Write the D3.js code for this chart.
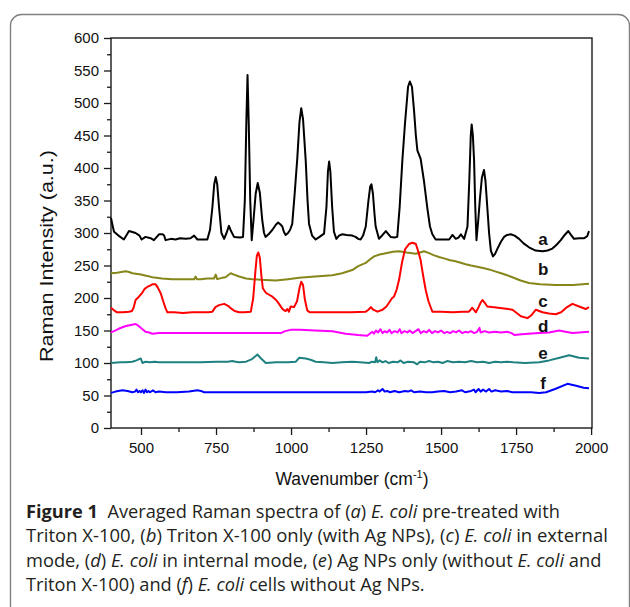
<!DOCTYPE html>
<html>
<head>
<meta charset="utf-8">
<script src="https://cdnjs.cloudflare.com/ajax/libs/d3/7.8.5/d3.min.js"></script>
<style>
  body { margin: 0; background: #fff; }
</style>
</head>
<body>
<script>
// spectra: [wavenumber, intensity]
var specA = [[400,323],[405,312],[410,302],[425,296],[443,290],[460,303],[482,300],[495,296],[502,290],[515,294],[532,292],[543,289],[560,298],[572,298],[577,296],[582,289],[600,291],[615,290],[630,292],[649,291],[665,292],[677,296],[688,290],[705,290],[721,290],[730,305],[738,340],[744,375],[749,386],[754,375],[760,340],[768,300],[777,291],[785,300],[793,311],[800,303],[810,294],[830,293],[840,294],[846,350],[851,470],[855,543],[859,470],[864,350],[869,289],[875,320],[882,360],[889,377],[896,362],[904,320],[910,300],[915,294],[925,298],[938,305],[950,313],[957,316],[965,313],[971,310],[976,302],[982,297],[990,300],[997,305],[1004,314],[1012,360],[1021,416],[1028,470],[1034,492],[1040,475],[1049,411],[1055,350],[1060,314],[1070,296],[1082,290],[1095,294],[1110,299],[1118,340],[1123,395],[1127,410],[1131,395],[1137,340],[1143,302],[1151,291],[1160,296],[1171,298],[1185,297],[1204,296],[1215,294],[1224,291],[1232,290],[1240,296],[1249,310],[1258,350],[1264,372],[1268,375],[1273,360],[1278,330],[1282,310],[1293,291],[1305,297],[1316,303],[1325,298],[1332,294],[1345,293],[1354,294],[1362,340],[1371,412],[1380,470],[1390,525],[1396,533],[1403,525],[1410,488],[1416,450],[1421,427],[1432,414],[1443,380],[1454,339],[1463,310],[1471,298],[1482,290],[1500,290],[1515,290],[1527,290],[1538,297],[1549,291],[1558,293],[1566,298],[1577,291],[1588,310],[1594,380],[1599,450],[1602,467],[1606,450],[1610,412],[1614,340],[1618,289],[1624,320],[1629,350],[1636,385],[1643,397],[1648,380],[1654,340],[1660,300],[1666,273],[1673,264],[1680,268],[1688,276],[1700,287],[1710,294],[1720,297],[1732,298],[1745,296],[1760,291],[1775,284],[1793,278],[1815,273],[1838,272],[1855,273],[1871,276],[1885,282],[1899,289],[1912,297],[1924,303],[1933,297],[1943,291],[1960,292],[1977,292],[1987,295],[1993,303]];

var specB = [[400,238],[420,239],[449,241],[460,240],[471,238],[500,236],[520,234],[538,232],[570,230],[604,229],[640,229],[677,229],[682,233],[686,229],[700,229],[720,230],[743,230],[749,236],[754,229],[770,231],[782,232],[790,235],[799,238],[810,236],[827,233],[850,230],[871,229],[900,228],[949,227],[990,229],[1027,231],[1080,233],[1138,235],[1170,238],[1204,243],[1224,249],[1249,254],[1265,260],[1277,264],[1295,267],[1316,269],[1340,271],[1360,272],[1385,270],[1416,268],[1430,270],[1443,272],[1460,269],[1475,266],[1493,263],[1510,261],[1530,258],[1545,257],[1560,255],[1582,252],[1600,250],[1620,248],[1640,246],[1660,244],[1680,241],[1700,238],[1720,235],[1738,232],[1765,227],[1793,223],[1830,221],[1882,220],[1940,220],[1993,222]];

var specC = [[400,185],[410,181],[420,178],[440,178],[460,179],[470,180],[476,186],[482,197],[493,202],[504,208],[512,214],[521,217],[530,219],[538,221],[549,221],[556,216],[566,207],[574,195],[582,184],[588,178],[610,178],[640,177],[670,178],[700,178],[725,178],[738,179],[748,186],[760,189],[777,191],[790,188],[800,184],[812,180],[827,178],[845,178],[866,179],[874,200],[881,240],[886,265],[891,270],[896,262],[901,235],[906,215],[916,208],[927,205],[938,202],[950,197],[960,191],[970,184],[977,181],[982,180],[988,183],[993,179],[999,187],[1010,186],[1020,195],[1028,215],[1034,225],[1040,220],[1046,198],[1054,181],[1062,178],[1100,178],[1160,178],[1200,178],[1249,179],[1258,182],[1266,186],[1274,182],[1288,179],[1305,182],[1318,187],[1327,193],[1337,200],[1343,202],[1352,213],[1360,228],[1370,255],[1380,275],[1393,283],[1405,285],[1416,283],[1425,270],[1432,258],[1440,235],[1449,212],[1458,195],[1466,185],[1471,179],[1500,179],[1540,178],[1570,179],[1593,179],[1604,185],[1616,178],[1625,186],[1632,193],[1638,197],[1645,193],[1654,187],[1670,186],[1690,185],[1710,184],[1738,182],[1752,177],[1766,172],[1788,169],[1800,173],[1816,182],[1838,178],[1860,176],[1882,175],[1900,178],[1920,186],[1938,191],[1960,187],[1982,183],[1993,186]];

var specD = [[400,147],[410,149],[427,153],[450,157],[470,159],[482,160],[492,157],[505,152],[515,148],[527,147],[538,145],[560,146],[600,146],[640,146],[682,146],[720,146],[760,146],[800,146],[850,146],[900,146],[940,146],[966,146],[980,149],[999,151],[1030,151],[1080,150],[1138,149],[1160,147],[1182,145],[1224,143],[1254,142],[1262,145],[1271,148],[1276,145],[1283,150],[1290,147],[1298,152],[1305,146],[1312,149],[1320,147],[1328,151],[1335,146],[1345,149],[1355,147],[1362,152],[1368,146],[1378,149],[1388,147],[1395,150],[1405,146],[1415,149],[1425,152],[1432,146],[1442,149],[1452,147],[1460,151],[1470,146],[1480,149],[1490,147],[1500,150],[1510,146],[1520,148],[1530,146],[1540,149],[1550,147],[1560,150],[1570,146],[1580,148],[1590,147],[1600,149],[1610,146],[1620,148],[1628,154],[1632,147],[1645,149],[1660,147],[1680,148],[1700,147],[1720,148],[1735,146],[1745,143],[1760,144],[1790,145],[1827,146],[1860,147],[1893,150],[1915,148],[1938,146],[1960,147],[1993,148]];

var specE = [[400,100],[430,101],[450,101],[471,102],[485,104],[499,107],[505,100],[515,102],[530,101],[545,102],[560,101],[580,101],[600,101],[650,101],[700,101],[750,102],[790,102],[804,103],[815,102],[827,101],[850,102],[870,106],[888,113],[900,107],[916,100],[950,101],[990,101],[1016,102],[1027,108],[1049,107],[1065,105],[1082,102],[1110,101],[1138,100],[1170,101],[1204,102],[1230,101],[1260,100],[1270,102],[1280,101],[1284,109],[1288,101],[1295,104],[1305,101],[1315,103],[1325,100],[1340,102],[1355,101],[1365,104],[1375,100],[1390,102],[1410,101],[1420,98],[1430,102],[1445,101],[1460,103],[1475,101],[1490,102],[1505,100],[1520,103],[1540,101],[1560,102],[1580,101],[1600,103],[1620,101],[1640,102],[1660,100],[1680,102],[1700,101],[1720,102],[1740,101],[1780,100],[1827,101],[1860,104],[1895,108],[1927,112],[1960,108],[1993,107]];

var specF = [[400,54],[415,56],[438,58],[455,57],[471,55],[480,56],[485,59],[490,55],[495,57],[500,55],[505,58],[510,54],[515,59],[520,55],[525,57],[530,55],[540,58],[548,55],[560,56],[582,55],[620,55],[660,56],[688,58],[700,57],[710,55],[760,55],[800,55],[850,55],[900,55],[950,55],[1000,55],[1050,55],[1100,55],[1150,55],[1200,55],[1250,55],[1270,56],[1280,55],[1290,58],[1295,56],[1305,60],[1312,56],[1320,57],[1330,55],[1345,57],[1360,55],[1380,57],[1390,56],[1400,58],[1410,55],[1430,56],[1450,55],[1470,55],[1490,56],[1510,57],[1530,55],[1550,56],[1570,58],[1580,55],[1600,57],[1610,59],[1615,55],[1625,60],[1632,56],[1640,59],[1650,56],[1660,60],[1668,56],[1680,58],[1700,56],[1720,57],[1738,55],[1760,55],[1800,55],[1827,54],[1850,55],[1880,60],[1921,68],[1950,65],[1975,62],[1993,61]];

var seriesNames = ["a", "b", "c", "d", "e", "f"];
var seriesData = [specA, specB, specC, specD, specE, specF];
var seriesColors = ["#000000", "#86861a", "#ff0000", "#ff00ff", "#1f8080", "#0000ff"];
// where the letter labels sit, in data units
var labelWn = [1840, 1840, 1840, 1840, 1840, 1840];
var labelVal = [290, 244, 195, 157, 115, 69];

var xTicks = [500, 750, 1000, 1250, 1500, 1750, 2000];
var xMinor = [625, 875, 1125, 1375, 1625, 1875];
var yTicks = [0, 50, 100, 150, 200, 250, 300, 350, 400, 450, 500, 550, 600];
var yMinor = [25, 75, 125, 175, 225, 275, 325, 375, 425, 475, 525, 575];

var captionLines = [
  [["Figure 1", "b"], ["  Averaged Raman spectra of (", ""], ["a", "i"], [") ", ""], ["E. coli", "i"], [" pre-treated with", ""]],
  [["Triton X-100, (", ""], ["b", "i"], [") Triton X-100 only (with Ag NPs), (", ""], ["c", "i"], [") ", ""], ["E. coli", "i"], [" in external", ""]],
  [["mode, (", ""], ["d", "i"], [") ", ""], ["E. coli", "i"], [" in internal mode, (", ""], ["e", "i"], [") Ag NPs only (without ", ""], ["E. coli", "i"], [" and", ""]],
  [["Triton X-100) and (", ""], ["f", "i"], [") ", ""], ["E. coli", "i"], [" cells without Ag NPs.", ""]]
];
var captionWidths = [534, 582, 576, 399];

var W = 630, H = 607;
var plot = {left: 111, right: 592, top: 38, bottom: 428};

var svg = d3.select("body")
  .append("svg")
  .attr("width", W)
  .attr("height", H);

// rounded figure frame
svg.append("rect")
  .attr("x", 10.5).attr("y", 14.5)
  .attr("width", 619).attr("height", 640)
  .attr("rx", 11)
  .attr("fill", "none")
  .attr("stroke", "#808080")
  .attr("stroke-width", 1.4);

var x = d3.scaleLinear().domain([400, 2003]).range([plot.left, plot.right]);
var y = d3.scaleLinear().domain([0, 600]).range([plot.bottom, plot.top]);

var font = "Liberation Sans, Arial, sans-serif";

// plot box
svg.append("rect")
  .attr("x", plot.left).attr("y", plot.top)
  .attr("width", plot.right - plot.left).attr("height", plot.bottom - plot.top)
  .attr("fill", "none")
  .attr("stroke", "#1a1a1a")
  .attr("stroke-width", 1.4);

// y axis
svg.append("g")
  .attr("transform", "translate(" + plot.left + ",0)")
  .call(d3.axisLeft(y).tickValues(yTicks).tickSize(7).tickPadding(5).tickFormat(d3.format("d")));
svg.append("g")
  .attr("transform", "translate(" + plot.left + ",0)")
  .call(d3.axisLeft(y).tickValues(yMinor).tickSize(4).tickFormat(""));

// x axis
svg.append("g")
  .attr("transform", "translate(0," + plot.bottom + ")")
  .call(d3.axisBottom(x).tickValues(xTicks).tickSize(7).tickPadding(7).tickFormat(d3.format("d")));
svg.append("g")
  .attr("transform", "translate(0," + plot.bottom + ")")
  .call(d3.axisBottom(x).tickValues(xMinor).tickSize(4).tickFormat(""));

svg.selectAll(".domain").remove();
svg.selectAll(".tick line").attr("stroke", "#1a1a1a").attr("stroke-width", 1.3);
svg.selectAll(".tick text")
  .attr("font-family", font)
  .attr("font-size", "15px")
  .attr("fill", "#111");

// spectra
var line = d3.line()
  .x(function(d) { return x(d[0]); })
  .y(function(d) { return y(d[1]); });

svg.append("g").selectAll("path")
  .data(seriesData)
  .enter()
  .append("path")
  .attr("d", line)
  .attr("fill", "none")
  .attr("stroke", function(d, i) { return seriesColors[i]; })
  .attr("stroke-width", 2)
  .attr("stroke-linejoin", "round");

svg.append("g").selectAll("text")
  .data(seriesNames)
  .enter()
  .append("text")
  .attr("x", function(d, i) { return x(labelWn[i]); })
  .attr("y", function(d, i) { return y(labelVal[i]); })
  .attr("dy", "0.35em")
  .attr("text-anchor", "middle")
  .attr("font-family", font)
  .attr("font-weight", "bold")
  .attr("font-size", "17px")
  .attr("fill", "#111")
  .text(function(d) { return d; });

// axis titles
svg.append("text")
  .attr("transform", "translate(53,256) rotate(-90)")
  .attr("text-anchor", "middle")
  .attr("font-family", font)
  .attr("font-size", "17.5px")
  .attr("textLength", 212)
  .attr("lengthAdjust", "spacingAndGlyphs")
  .attr("fill", "#111")
  .text("Raman Intensity (a.u.)");

var xt = svg.append("text")
  .attr("x", 352)
  .attr("y", 485)
  .attr("text-anchor", "middle")
  .attr("font-family", font)
  .attr("font-size", "17.5px")
  .attr("fill", "#111");
xt.append("tspan").text("Wavenumber (cm");
xt.append("tspan").attr("dy", "-7").attr("font-size", "11px").text("-1");
xt.append("tspan").attr("dy", "7").text(")");

// caption
var cap = svg.append("g");
captionLines.forEach(function(parts, i) {
  var t = cap.append("text")
    .attr("x", 0)
    .attr("y", 0)
    .attr("font-family", "Open Sans, sans-serif")
    .attr("font-size", "18px")
    .attr("fill", "#231f20")
    .attr("xml:space", "preserve");
  parts.forEach(function(p) {
    t.append("tspan")
      .attr("font-weight", p[1] === "b" ? "bold" : "normal")
      .attr("font-style", p[1] === "i" ? "italic" : "normal")
      .text(p[0]);
  });
  var w = t.node().getComputedTextLength();
  var s = captionWidths[i] / w;
  t.attr("transform", "translate(26," + (518 + i * 24.3) + ") scale(" + s + ",1)");
});
</script>
</body>
</html>
